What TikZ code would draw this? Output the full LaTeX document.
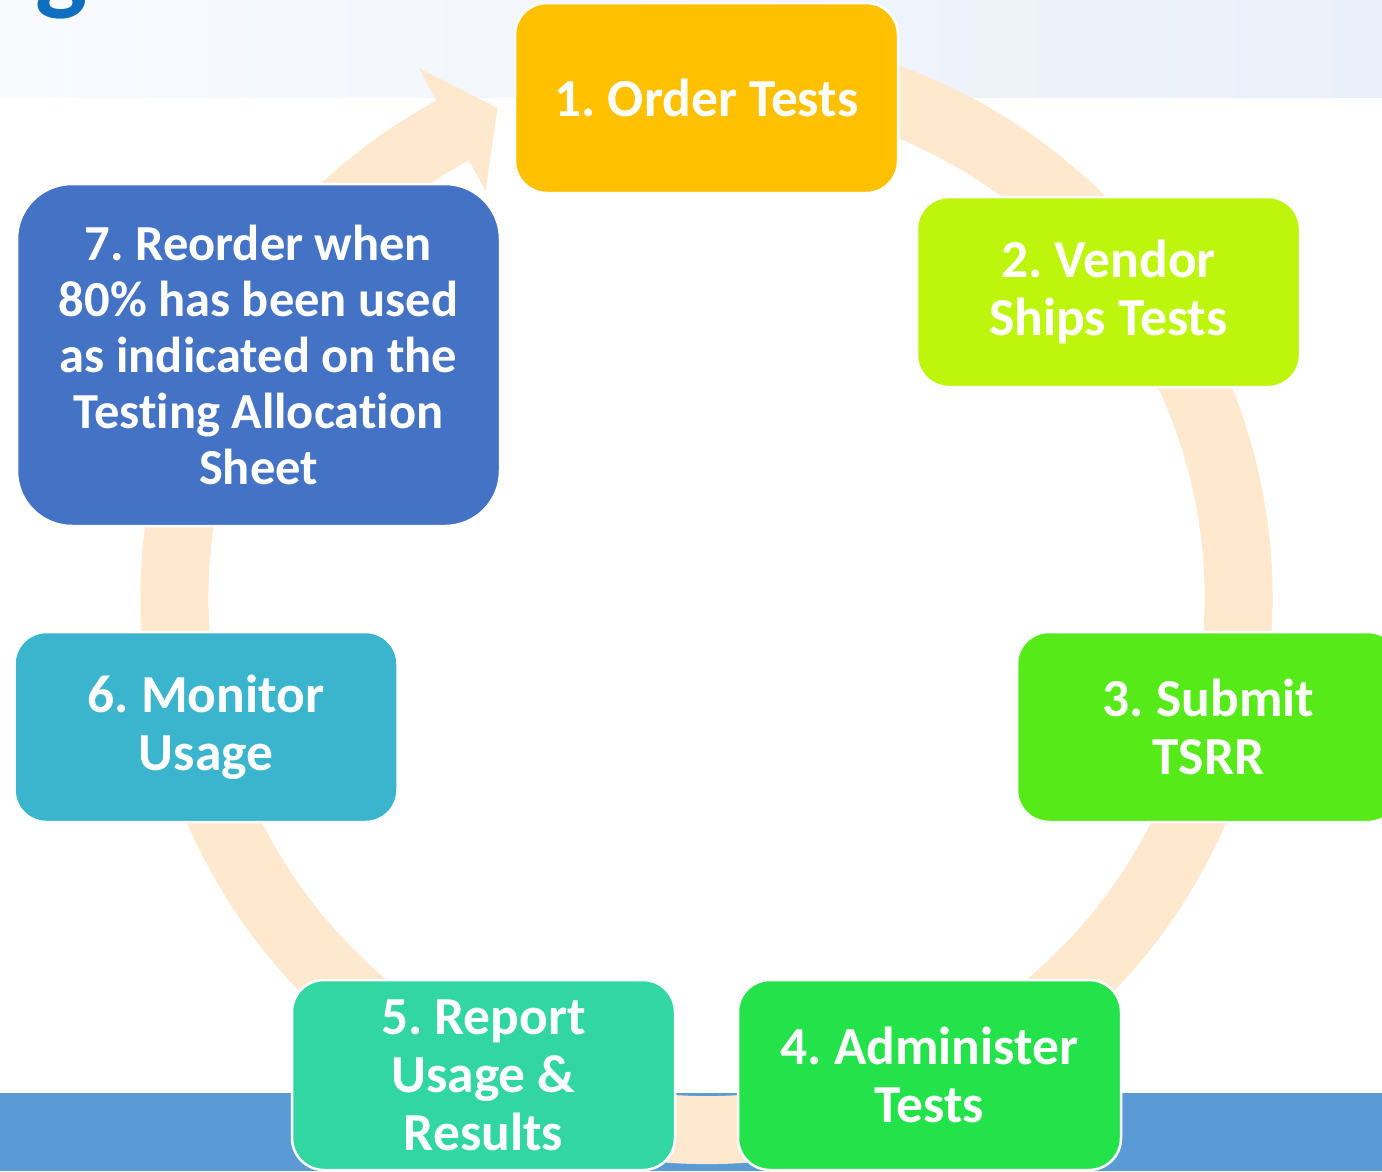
\documentclass[tikz,border=0pt]{standalone}
\usepackage{fontspec}
\setmainfont{Carlito}[Ligatures={NoCommon}]
\usetikzlibrary{calc}
\frenchspacing
\definecolor{ringc}{HTML}{FEE8CE}
\definecolor{bandtopL}{HTML}{F8FAFE}
\definecolor{bandtopR}{HTML}{EAF0F9}
\definecolor{bandbot}{HTML}{5B9BD5}
\definecolor{titleblue}{HTML}{0E6EBF}
\definecolor{cA}{HTML}{FFC000}
\definecolor{cB}{HTML}{BDF50D}
\definecolor{cC}{HTML}{56EA19}
\definecolor{cD}{HTML}{24E24A}
\definecolor{cE}{HTML}{31D6A0}
\definecolor{cF}{HTML}{3BB4CE}
\definecolor{cG}{HTML}{4472C4}
\tikzset{
  stepbox/.style={draw=white, line width=2.5pt, rounded corners=32pt, text=white,
    minimum width=383pt, minimum height=190pt, align=center, inner sep=0pt,
    font=\bfseries\fontsize{53.5}{58}\selectfont},
}
\begin{document}
\begin{tikzpicture}[x=1pt,y=1pt]
\clip (0,0) rectangle (1382,-1171);
% background bands
\shade[left color=bandtopL, right color=bandtopR] (0,0) rectangle (1382,-97);
\fill[bandbot] (0,-1093) rectangle (1382,-1171);
\node[anchor=base, text=titleblue, font=\bfseries\fontsize{110}{120}\selectfont, inner sep=0pt] (title) at (62,0) {g};
% ring
\coordinate (C) at (706.5,-598);
\draw[ringc, line width=68pt] ($(C)+(80:532pt)$) arc[start angle=80, end angle=-241.5, radius=532pt];
\fill[ringc] ($(C)+(118.5:463pt)$) -- ($(C)+(118.5:603pt)$) -- ($(C)+(-209,490)$) -- cycle;
% boxes
\node[stepbox, fill=cA] (s1) at (706.5,-98) {1. Order Tests};
\node[stepbox, fill=cB] (s2) at (1108.5,-292) {2. Vendor\\Ships Tests};
\node[stepbox, fill=cC] (s3) at (1208.5,-727) {3. Submit\\TSRR};
\node[stepbox, fill=cD] (s4) at (929.5,-1075) {4. Administer\\Tests};
\node[stepbox, fill=cE] (s5) at (483.5,-1075) {5. Report\\Usage \&\\Results};
\node[stepbox, fill=cF] (s6) at (206,-727) {6. Monitor\\Usage};
\node[stepbox, fill=cG, minimum width=483pt, minimum height=342pt, rounded corners=55pt,
  font=\bfseries\fontsize{50.5}{56}\selectfont] (s7) at (258.5,-355)
  {7. Reorder when\\80\% has been used\\as indicated on the\\Testing Allocation\\Sheet};
\end{tikzpicture}
\end{document}
